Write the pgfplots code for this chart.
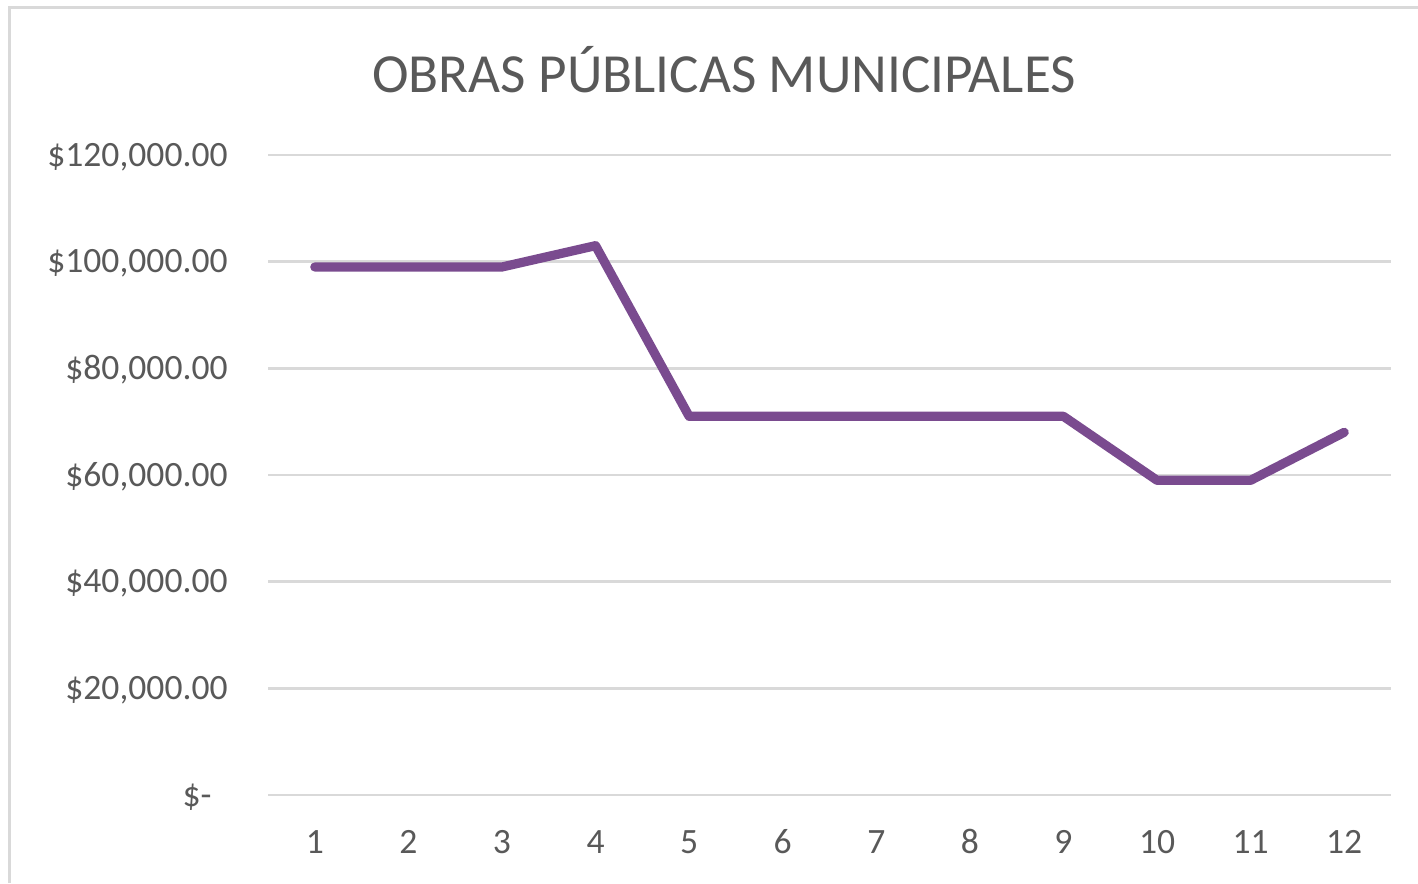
\documentclass[border=0pt]{standalone}
\usepackage{pgfplots}
\pgfplotsset{compat=1.18}
\usepackage{fontspec}
\setmainfont{Carlito}
\definecolor{txt}{HTML}{595959}
\definecolor{grid}{HTML}{D9D9D9}
\definecolor{line}{RGB}{122,75,143}
\begin{document}
\begin{tikzpicture}[x=1pt,y=1pt]
\useasboundingbox (0,0) rectangle (709,441.5);
\draw[color=grid, line width=1.5pt] (4.5,0) -- (4.5,437.5) -- (709,437.5);
\node[anchor=base, text=txt, font=\fontsize{27.6}{32}\selectfont, inner sep=0pt] at (362,395) {OBRAS PÚBLICAS MUNICIPALES};
\begin{axis}[
  at={(134pt,44pt)}, anchor=south west,
  width=561.5pt, height=320pt, scale only axis,
  xmin=0.5, xmax=12.5, ymin=0, ymax=120000,
  axis line style={draw=none},
  scaled y ticks=false,
  xtick={1,...,12},
  ytick={0,20000,40000,60000,80000,100000,120000},
  yticklabels={{\$-\rule{8pt}{0pt}},{\$20,000.00},{\$40,000.00},{\$60,000.00},{\$80,000.00},{\$100,000.00},{\$120,000.00}},
  /pgf/number format/assume math mode=true,
  major tick length=0pt,
  ymajorgrids,
  grid style={color=grid, line width=1.2pt},
  tick label style={text=txt, font=\fontsize{17.8}{20}\selectfont, inner sep=0pt},
  yticklabel style={anchor=base east, xshift=-20pt, yshift=-5.6pt},
  xticklabel style={anchor=base, yshift=-29pt},
  clip=false,
]
\addplot[color=line, line width=4.6pt, line cap=round, line join=round, mark=none] coordinates {
(1,99000) (2,99000) (3,99000) (4,103000) (5,71000) (6,71000) (7,71000) (8,71000) (9,71000) (10,59000) (11,59000) (12,68000)
};
\end{axis}
\end{tikzpicture}
\end{document}
